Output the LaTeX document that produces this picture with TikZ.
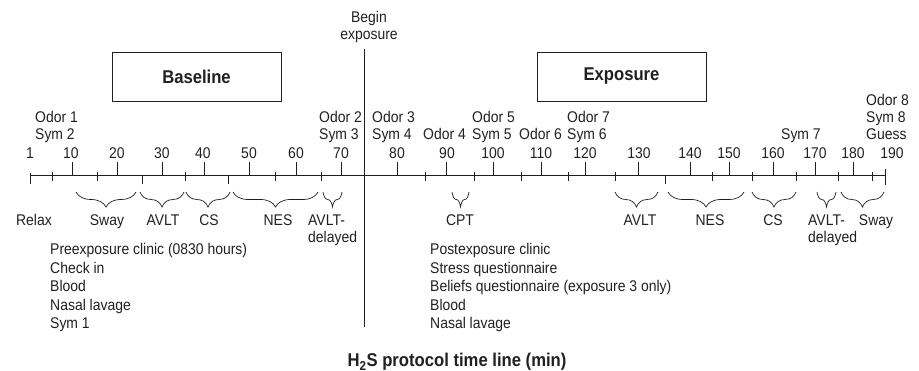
\documentclass[tikz,border=0pt]{standalone}
\usepackage{fontspec}
\setmainfont[FakeStretch=0.9]{Liberation Sans}
\usetikzlibrary{decorations.pathreplacing}

\definecolor{Ink}{HTML}{231F20}

\tikzset{
  lbl/.style={inner sep=0pt, text=Ink, font=\fontsize{15.5}{17}\selectfont},
  clinic/.style={lbl, align=left, anchor=base west, font=\fontsize{15.5}{18.5}\selectfont},
  phase/.style={draw=Ink, line width=0.8pt, minimum width=169pt, minimum height=49pt,
    text=Ink, font=\fontsize{18.5}{20}\selectfont\bfseries},
  tbrace/.style={decorate, decoration={brace, mirror, amplitude=15pt}, line width=0.7pt, draw=Ink},
}

\begin{document}
\begin{tikzpicture}[x=1pt, y=-1pt]
 \useasboundingbox (0,0) rectangle (919,371);

 %%%%%%%%%% Axis %%%%%%%%%%
 \coordinate (start) at (30,176) ;
 \coordinate (end) at (885,176) ;
 \coordinate (begtop) at (364,49) ;
 \coordinate (begbot) at (364,327) ;

 \draw [line width=1, Ink] (start) -- (end) ;
 \draw [line width=0.9, Ink] (begtop) -- (begbot) ;
 \draw [line width=1, Ink] (30,173) -- (30,184) ;
 \draw [line width=1, Ink] (885,169) -- (885,185) ;

 % major ticks
 \foreach \x in {72,117,162,204,249,296,341,397,446,493,541,585,638,690,729,773,815,853}
   \draw [line width=0.8, Ink] (\x,176) -- (\x,162) ;
 % minor ticks
 \foreach \x in {52,97,185,275,321,425,474,521,568,615,712,752,796,838,872}
   \draw [line width=0.8, Ink] (\x,172) -- (\x,181) ;
 \foreach \x in {142,228,665}
   \draw [line width=0.8, Ink] (\x,175) -- (\x,184) ;

 %%%%%%%%%% Minutes %%%%%%%%%%
 \foreach \x/\m in {30/1,71/10,117/20,162/30,203/40,249/50,296/60,341/70,397/80,447/90,
   493/100,541/110,585/120,639/130,690/140,729/150,773/160,815/170,853/180,892/190}
   \node [lbl, anchor=base] (m\m) at (\x,159) {\m} ;

 %%%%%%%%%% Phases %%%%%%%%%%
 \node [phase] (baseline) at (196.5,76.5) {Baseline} ;
 \node [phase] (exposure) at (621.5,76.5) {Exposure} ;
 \node [lbl, align=center, anchor=base] (begin) at (369,40) {Begin\\exposure} ;

 %%%%%%%%%% Odor and Sym %%%%%%%%%%
 \node [lbl, align=left, anchor=base west] (odor1) at (35,140) {Odor 1\\Sym 2} ;
 \node [lbl, align=left, anchor=base west] (odor2) at (319,140) {Odor 2\\Sym 3} ;
 \node [lbl, align=left, anchor=base west] (odor3) at (372,140) {Odor 3\\Sym 4} ;
 \node [lbl, anchor=base west] (odor4) at (423,140) {Odor 4} ;
 \node [lbl, align=left, anchor=base west] (odor5) at (472,140) {Odor 5\\Sym 5} ;
 \node [lbl, anchor=base west] (odor6) at (519,140) {Odor 6} ;
 \node [lbl, align=left, anchor=base west] (odor7) at (567,140) {Odor 7\\Sym 6} ;
 \node [lbl, anchor=base west] (sym7) at (781,140) {Sym 7} ;
 \node [lbl, align=left, anchor=base west] (odor8) at (866,140) {Odor 8\\Sym 8\\Guess} ;

 %%%%%%%%%% Tests %%%%%%%%%%
 \coordinate (sway1a) at (76,192) ;   \coordinate (sway1b) at (136,192) ;
 \coordinate (avlt1a) at (140,192) ;  \coordinate (avlt1b) at (184,192) ;
 \coordinate (cs1a) at (186,192) ;    \coordinate (cs1b) at (230,192) ;
 \coordinate (nes1a) at (233,192) ;   \coordinate (nes1b) at (318,192) ;
 \coordinate (del1a) at (323,192) ;   \coordinate (del1b) at (342,192) ;
 \coordinate (cpta) at (452,192) ;    \coordinate (cptb) at (469,192) ;
 \coordinate (avlt2a) at (615,192) ;  \coordinate (avlt2b) at (658,192) ;
 \coordinate (nes2a) at (668,192) ;   \coordinate (nes2b) at (744,192) ;
 \coordinate (cs2a) at (752,192) ;    \coordinate (cs2b) at (796,192) ;
 \coordinate (del2a) at (817,192) ;   \coordinate (del2b) at (836,192) ;
 \coordinate (sway2a) at (841,192) ; \coordinate (sway2b) at (884,192) ;

 \draw [tbrace] (sway1a) -- (sway1b) ;
 \draw [tbrace] (avlt1a) -- (avlt1b) ;
 \draw [tbrace] (cs1a) -- (cs1b) ;
 \draw [tbrace] (nes1a) -- (nes1b) ;
 \draw [tbrace] (del1a) -- (del1b) ;
 \draw [tbrace] (cpta) -- (cptb) ;
 \draw [tbrace] (avlt2a) -- (avlt2b) ;
 \draw [tbrace] (nes2a) -- (nes2b) ;
 \draw [tbrace] (cs2a) -- (cs2b) ;
 \draw [tbrace] (del2a) -- (del2b) ;
 \draw [tbrace] (sway2a) -- (sway2b) ;

 \node [lbl, anchor=base] (relax) at (34,226) {Relax} ;
 \node [lbl, anchor=base] (sway1) at (107,226) {Sway} ;
 \node [lbl, anchor=base] (avlt1) at (163,226) {AVLT} ;
 \node [lbl, anchor=base] (cs1) at (209,226) {CS} ;
 \node [lbl, anchor=base] (nes1) at (278,226) {NES} ;
 \node [lbl, align=left, anchor=base west] (del1) at (308,243) {AVLT-\\delayed} ;
 \node [lbl, anchor=base] (cpt) at (460,226) {CPT} ;
 \node [lbl, anchor=base] (avlt2) at (640,226) {AVLT} ;
 \node [lbl, anchor=base] (nes2) at (710,226) {NES} ;
 \node [lbl, anchor=base] (cs2) at (773,226) {CS} ;
 \node [lbl, align=left, anchor=base west] (del2) at (808,243) {AVLT-\\delayed} ;
 \node [lbl, anchor=base] (sway2) at (876,226) {Sway} ;

 %%%%%%%%%% Clinics %%%%%%%%%%
 \node [clinic] (pre) at (50,329) {Preexposure clinic (0830 hours)\\Check in\\Blood\\Nasal lavage\\Sym 1} ;
 \node [clinic] (post) at (430,329) {Postexposure clinic\\Stress questionnaire\\Beliefs questionnaire (exposure 3 only)\\Blood\\Nasal lavage} ;

 %%%%%%%%%% Title %%%%%%%%%%
 \node [lbl, anchor=base, font=\fontsize{18.5}{20}\selectfont\bfseries] (title) at (457,367) {H\textsubscript{2}S protocol time line (min)} ;

\end{tikzpicture}
\end{document}
